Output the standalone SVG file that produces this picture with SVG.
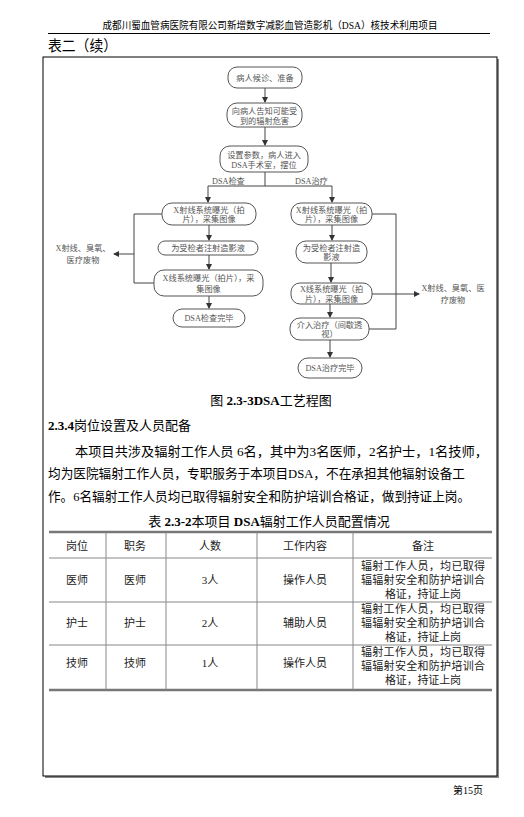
<svg xmlns="http://www.w3.org/2000/svg" width="524" height="817" viewBox="0 0 524 817">
<style>
.cjk{font-family:"Liberation Serif","Noto Sans CJK SC",serif;fill:#000}
.fc{font-family:"Liberation Serif","Noto Sans CJK SC",sans-serif;font-size:8.2px;fill:#555;text-anchor:middle}
.node rect{fill:#fff;stroke:#555;stroke-width:1}
.conn line,.conn polyline{stroke:#444;stroke-width:1;fill:none}
.tb{stroke:#888;stroke-width:1}
.tbt{stroke:#777;stroke-width:2.5}
.cell{font-family:"Liberation Serif","Noto Sans CJK SC",serif;font-size:11px;fill:#222;text-anchor:middle}
</style>
<defs>
<marker id="ah" markerWidth="6" markerHeight="6" refX="5" refY="3" orient="auto" markerUnits="userSpaceOnUse">
<path d="M0,0 L6,3 L0,6 Z" fill="#333"/>
</marker>
</defs>
<rect width="524" height="817" fill="#fff"/>
<!-- header -->
<text class="cjk" x="270" y="29" font-size="10" text-anchor="middle" fill="#222" textLength="335" lengthAdjust="spacingAndGlyphs">成都川蜀血管病医院有限公司新增数字减影血管造影机（DSA）核技术利用项目</text>
<line x1="48" y1="33.5" x2="490" y2="33.5" stroke="#000" stroke-width="1"/>
<text class="cjk" x="48" y="51" font-size="15" textLength="69" lengthAdjust="spacingAndGlyphs">表二（续）</text>
<!-- frame -->
<rect x="45" y="59" width="454" height="719" fill="#888"/>
<rect x="43" y="57" width="454" height="719" fill="#fff" stroke="#000" stroke-width="1"/>

<!-- connectors -->
<g id="connectors" class="conn">
<line x1="265" y1="88" x2="265" y2="102" marker-end="url(#ah)"/>
<line x1="265" y1="127" x2="265" y2="145" marker-end="url(#ah)"/>
<line x1="265" y1="172" x2="265" y2="186"/>
<line x1="208" y1="186" x2="332" y2="186"/>
<line x1="208" y1="186" x2="208" y2="202" marker-end="url(#ah)"/>
<line x1="332" y1="186" x2="332" y2="202" marker-end="url(#ah)"/>
<line x1="209" y1="225" x2="209" y2="240" marker-end="url(#ah)"/>
<line x1="209" y1="255" x2="209" y2="269" marker-end="url(#ah)"/>
<line x1="209" y1="296" x2="209" y2="308" marker-end="url(#ah)"/>
<polyline points="162,214 134,214 134,283 154,283"/>
<line x1="134" y1="254" x2="114" y2="254" marker-end="url(#ah)"/>
<line x1="332" y1="225" x2="332" y2="240" marker-end="url(#ah)"/>
<line x1="331" y1="263" x2="331" y2="282" marker-end="url(#ah)"/>
<line x1="330" y1="304" x2="330" y2="317" marker-end="url(#ah)"/>
<line x1="330" y1="340" x2="330" y2="357" marker-end="url(#ah)"/>
<polyline points="372,214 396,214 396,329 369,329"/>
<line x1="372" y1="294" x2="419" y2="294" marker-end="url(#ah)"/>
</g>
<text class="fc" x="212" y="184" style="text-anchor:start">DSA检查</text>
<text class="fc" x="295" y="184" style="text-anchor:start">DSA治疗</text>
<text class="fc" x="83" y="251">X射线、臭氧、</text>
<text class="fc" x="83" y="263">医疗废物</text>
<text class="fc" x="453" y="291">X射线、臭氧、医</text>
<text class="fc" x="453" y="303">疗废物</text>

<!-- nodes -->
<g id="n1" class="node"><rect x="228" y="67" width="74" height="21" rx="9"/><text class="fc" x="265" y="80.5">病人候诊、准备</text></g>
<g id="n2" class="node"><rect x="227" y="103" width="75" height="24" rx="10"/><text class="fc" x="264.5" y="113.5">向病人告知可能受</text><text class="fc" x="264.5" y="123.5">到的辐射危害</text></g>
<g id="n3" class="node"><rect x="220" y="146" width="88" height="26" rx="10"/><text class="fc" x="264" y="157.5">设置参数，病人进入</text><text class="fc" x="264" y="168">DSA手术室，摆位</text></g>
<g id="l1" class="node"><rect x="162" y="203" width="94" height="22" rx="10"/><text class="fc" x="209" y="212.5">X射线系统曝光（拍</text><text class="fc" x="209" y="222">片），采集图像</text></g>
<g id="l2" class="node"><rect x="158" y="241" width="100" height="14" rx="7"/><text class="fc" x="208" y="251">为受检者注射造影液</text></g>
<g id="l3" class="node"><rect x="154" y="270" width="109" height="26" rx="10"/><text class="fc" x="208.5" y="281">X线系统曝光（拍片），采</text><text class="fc" x="208.5" y="291.5">集图像</text></g>
<g id="l4" class="node"><rect x="173" y="309" width="72" height="18" rx="9"/><text class="fc" x="209" y="321">DSA检查完毕</text></g>
<g id="r1" class="node"><rect x="291" y="203" width="81" height="22" rx="10"/><text class="fc" x="331.5" y="212.5">X射线系统曝光（拍</text><text class="fc" x="331.5" y="222">片），采集图像</text></g>
<g id="r2" class="node"><rect x="296" y="241" width="71" height="22" rx="10"/><text class="fc" x="331.5" y="250.5">为受检者注射造</text><text class="fc" x="331.5" y="260">影液</text></g>
<g id="r3" class="node"><rect x="291" y="283" width="81" height="21" rx="9"/><text class="fc" x="331.5" y="292">X线系统曝光（拍</text><text class="fc" x="331.5" y="301.5">片），采集图像</text></g>
<g id="r4" class="node"><rect x="290" y="318" width="79" height="22" rx="10"/><text class="fc" x="329.5" y="327.5">介入治疗（间歇透</text><text class="fc" x="329.5" y="337">视）</text></g>
<g id="r5" class="node"><rect x="298" y="358" width="64" height="20" rx="10"/><text class="fc" x="330" y="371">DSA治疗完毕</text></g>

<!-- caption & body text -->
<text class="cjk" x="271" y="405" font-size="13" text-anchor="middle">图 <tspan font-weight="bold">2.3-3DSA</tspan>工艺程图</text>
<text class="cjk" x="48" y="430" font-size="13"><tspan font-weight="bold">2.3.4</tspan>岗位设置及人员配备</text>
<text class="cjk" x="75" y="456" font-size="13" textLength="413" lengthAdjust="spacingAndGlyphs">本项目共涉及辐射工作人员 6名，其中为3名医师，2名护士，1名技师，</text>
<text class="cjk" x="48" y="478" font-size="13" textLength="417" lengthAdjust="spacingAndGlyphs">均为医院辐射工作人员，专职服务于本项目DSA，不在承担其他辐射设备工</text>
<text class="cjk" x="48" y="501" font-size="13" textLength="422" lengthAdjust="spacingAndGlyphs">作。6名辐射工作人员均已取得辐射安全和防护培训合格证，做到持证上岗。</text>
<text class="cjk" x="269" y="526" font-size="13" text-anchor="middle">表 <tspan font-weight="bold">2.3-2</tspan>本项目 <tspan font-weight="bold">DSA</tspan>辐射工作人员配置情况</text>

<!-- table -->
<g id="table">
<line class="tbt" x1="49" y1="532" x2="492" y2="532"/>
<line class="tbt" x1="49" y1="690" x2="492" y2="690"/>
<line class="tb" x1="49" y1="558" x2="492" y2="558"/>
<line class="tb" x1="49" y1="602" x2="492" y2="602"/>
<line class="tb" x1="49" y1="645" x2="492" y2="645"/>
<line class="tb" x1="106" y1="532" x2="106" y2="690"/>
<line class="tb" x1="166" y1="532" x2="166" y2="690"/>
<line class="tb" x1="257" y1="532" x2="257" y2="690"/>
<line class="tb" x1="353" y1="532" x2="353" y2="690"/>
<text class="cell" x="77" y="550">岗位</text>
<text class="cell" x="135" y="550">职务</text>
<text class="cell" x="210" y="550">人数</text>
<text class="cell" x="305" y="550">工作内容</text>
<text class="cell" x="423" y="550">备注</text>

<text class="cell" x="77" y="584">医师</text>
<text class="cell" x="135" y="584">医师</text>
<text class="cell" x="210" y="584">3人</text>
<text class="cell" x="305" y="584">操作人员</text>
<text class="cell" x="423" y="570" textLength="124" lengthAdjust="spacing">辐射工作人员，均已取得</text>
<text class="cell" x="423" y="584" textLength="124" lengthAdjust="spacing">辐辐射安全和防护培训合</text>
<text class="cell" x="423" y="598" textLength="76" lengthAdjust="spacing">格证，持证上岗</text>

<text class="cell" x="77" y="627">护士</text>
<text class="cell" x="135" y="627">护士</text>
<text class="cell" x="210" y="627">2人</text>
<text class="cell" x="305" y="627">辅助人员</text>
<text class="cell" x="423" y="613" textLength="124" lengthAdjust="spacing">辐射工作人员，均已取得</text>
<text class="cell" x="423" y="627" textLength="124" lengthAdjust="spacing">辐辐射安全和防护培训合</text>
<text class="cell" x="423" y="641" textLength="76" lengthAdjust="spacing">格证，持证上岗</text>

<text class="cell" x="77" y="667">技师</text>
<text class="cell" x="135" y="667">技师</text>
<text class="cell" x="210" y="667">1人</text>
<text class="cell" x="305" y="667">操作人员</text>
<text class="cell" x="423" y="656" textLength="124" lengthAdjust="spacing">辐射工作人员，均已取得</text>
<text class="cell" x="423" y="670" textLength="124" lengthAdjust="spacing">辐辐射安全和防护培训合</text>
<text class="cell" x="423" y="684" textLength="76" lengthAdjust="spacing">格证，持证上岗</text>
</g>

<text class="cjk" x="453" y="794" font-size="10" fill="#222">第15页</text>
</svg>
